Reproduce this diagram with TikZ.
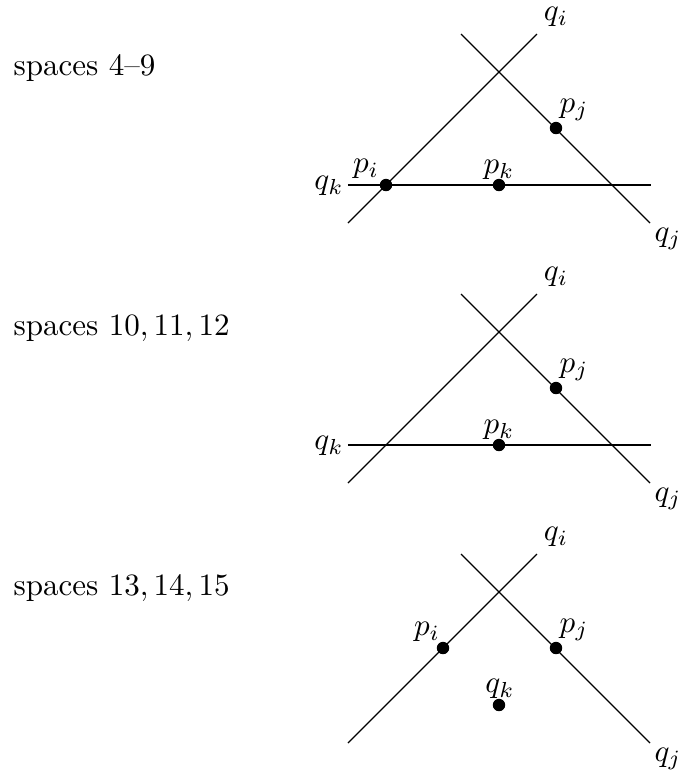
\documentclass[tikz,border=0pt]{standalone}
\begin{document}
\begin{tikzpicture}[x=0.322pt,y=-0.322pt,
  thinline/.style={line width=0.4pt},
  thickline/.style={line width=0.75pt},
  dot/.style={circle,fill=black,inner sep=0pt,minimum size=4pt},
  lab/.style={inner sep=0pt},
  caption/.style={anchor=base west,inner sep=0pt}]
\useasboundingbox (0,0) rectangle (680,780);
% ---------- panel 1 ----------
\node[caption] (t1) at (13,75) {spaces 4--9};
\coordinate (a1) at (348,223); \coordinate (b1) at (537,34);
\coordinate (c1) at (461,34);  \coordinate (d1) at (650,223);
\coordinate (e1) at (348,185); \coordinate (f1) at (651,185);
\draw[thinline] (a1) -- (b1);
\draw[thinline] (c1) -- (d1);
\draw[thickline] (e1) -- (f1);
\node[dot] (pi1) at (386,185) {};
\node[dot] (pk1) at (499,185) {};
\node[dot] (pj1) at (556,128) {};
\node[lab] (qi1) at (556,17) {$q_i$};
\node[lab] (pjl1) at (574,110) {$p_j$};
\node[lab] (qj1) at (668,239) {$q_j$};
\node[lab] (qk1) at (329,186) {$q_k$};
\node[lab] (pil1) at (366,169) {$p_i$};
\node[lab] (pkl1) at (499,170) {$p_k$};
% ---------- panel 2 ----------
\node[caption] (t2) at (13,335) {spaces $10,11,12$};
\coordinate (a2) at (348,483); \coordinate (b2) at (537,294);
\coordinate (c2) at (461,294); \coordinate (d2) at (650,483);
\coordinate (e2) at (348,445); \coordinate (f2) at (651,445);
\draw[thinline] (a2) -- (b2);
\draw[thinline] (c2) -- (d2);
\draw[thickline] (e2) -- (f2);
\node[dot] (pk2) at (499,445) {};
\node[dot] (pj2) at (556,388) {};
\node[lab] (qi2) at (556,277) {$q_i$};
\node[lab] (pjl2) at (574,370) {$p_j$};
\node[lab] (qj2) at (668,499) {$q_j$};
\node[lab] (qk2) at (329,446) {$q_k$};
\node[lab] (pkl2) at (499,430) {$p_k$};
% ---------- panel 3 ----------
\node[caption] (t3) at (13,595) {spaces $13,14,15$};
\coordinate (a3) at (348,743); \coordinate (b3) at (537,554);
\coordinate (c3) at (461,554); \coordinate (d3) at (650,743);
\draw[thinline] (a3) -- (b3);
\draw[thinline] (c3) -- (d3);
\node[dot] (pi3) at (443,648) {};
\node[dot] (pj3) at (556,648) {};
\node[dot] (qk3) at (499,705) {};
\node[lab] (qi3) at (556,537) {$q_i$};
\node[lab] (pil3) at (427,632) {$p_i$};
\node[lab] (pjl3) at (574,630) {$p_j$};
\node[lab] (qkl3) at (500,689) {$q_k$};
\node[lab] (qj3) at (668,759) {$q_j$};
\end{tikzpicture}
\end{document}
